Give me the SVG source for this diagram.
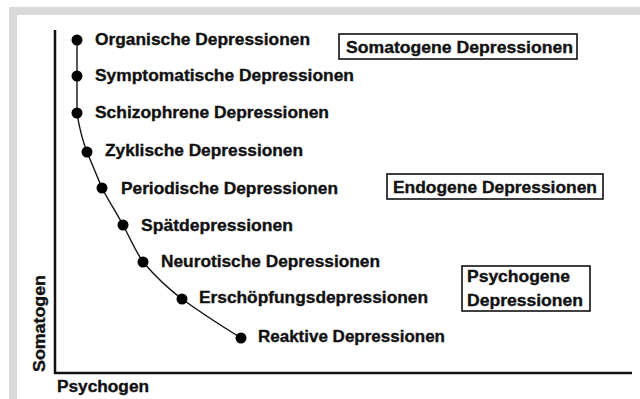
<svg xmlns="http://www.w3.org/2000/svg" width="640" height="399" viewBox="0 0 640 399">
<style>
.t{font-family:"Liberation Sans",Arial,sans-serif;font-weight:bold;font-size:16.5px;fill:#111;stroke:#111;stroke-width:0.35}
.ax{font-family:"Liberation Sans",Arial,sans-serif;font-weight:bold;font-size:16px;fill:#111;stroke:#111;stroke-width:0.35}
.box{fill:none;stroke:#111;stroke-width:1.6}
.dot{fill:#000}
</style>
<rect x="0" y="0" width="640" height="399" fill="#fff"/>
<rect x="9" y="7" width="631" height="8" fill="#d9d9d9"/>
<rect x="9" y="7" width="8" height="392" fill="#d9d9d9"/>
<g id="axes" stroke="#111" stroke-width="2.5" fill="none">
<line x1="55" y1="30" x2="55" y2="374"/>
<line x1="54" y1="373" x2="632" y2="373"/>
</g>
<g id="connectors">
<path d="M77,40 L77,113 C79,126 82,139 87,152 C92,164 97,176 102,188 C108,200 116,212 123,225 C130,238 135,250 143,262 C155,276 166,287 182,299 C200,312 220,325 241,338" fill="none" stroke="#111" stroke-width="1.4"/>
</g>
<g id="n1"><circle class="dot" cx="77" cy="40" r="5.5"/><text class="t" x="95" y="45" textLength="215" lengthAdjust="spacingAndGlyphs">Organische Depressionen</text></g>
<g id="n2"><circle class="dot" cx="77" cy="76" r="5.5"/><text class="t" x="95" y="80.5" textLength="259" lengthAdjust="spacingAndGlyphs">Symptomatische Depressionen</text></g>
<g id="n3"><circle class="dot" cx="77" cy="113" r="5.5"/><text class="t" x="95" y="118" textLength="234" lengthAdjust="spacingAndGlyphs">Schizophrene Depressionen</text></g>
<g id="n4"><circle class="dot" cx="87" cy="152" r="5.5"/><text class="t" x="105" y="156" textLength="198" lengthAdjust="spacingAndGlyphs">Zyklische Depressionen</text></g>
<g id="n5"><circle class="dot" cx="102" cy="188" r="5.5"/><text class="t" x="121" y="194" textLength="217" lengthAdjust="spacingAndGlyphs">Periodische Depressionen</text></g>
<g id="n6"><circle class="dot" cx="123" cy="225" r="5.5"/><text class="t" x="141" y="231" textLength="152" lengthAdjust="spacingAndGlyphs">Spätdepressionen</text></g>
<g id="n7"><circle class="dot" cx="143" cy="262" r="5.5"/><text class="t" x="161" y="267" textLength="219" lengthAdjust="spacingAndGlyphs">Neurotische Depressionen</text></g>
<g id="n8"><circle class="dot" cx="182" cy="299" r="5.5"/><text class="t" x="199" y="303" textLength="229" lengthAdjust="spacingAndGlyphs">Erschöpfungsdepressionen</text></g>
<g id="n9"><circle class="dot" cx="241" cy="338" r="5.5"/><text class="t" x="258" y="342" textLength="187" lengthAdjust="spacingAndGlyphs">Reaktive Depressionen</text></g>
<g id="somatogene"><rect class="box" x="339" y="34" width="238" height="25"/><text class="t" x="346" y="53" textLength="227" lengthAdjust="spacingAndGlyphs">Somatogene Depressionen</text></g>
<g id="endogene"><rect class="box" x="387" y="174" width="216" height="25"/><text class="t" x="393" y="193" textLength="204" lengthAdjust="spacingAndGlyphs">Endogene Depressionen</text></g>
<g id="psychogene"><rect class="box" x="462" y="266" width="128" height="45"/><text class="t" x="467" y="282" textLength="103" lengthAdjust="spacingAndGlyphs">Psychogene</text><text class="t" x="467" y="306" textLength="116" lengthAdjust="spacingAndGlyphs">Depressionen</text></g>
<g id="labels">
<text class="ax" x="57" y="392" textLength="92" lengthAdjust="spacingAndGlyphs">Psychogen</text>
<text class="ax" transform="translate(45,372) rotate(-90)" x="0" y="0" textLength="97" lengthAdjust="spacingAndGlyphs">Somatogen</text>
</g>
</svg>
